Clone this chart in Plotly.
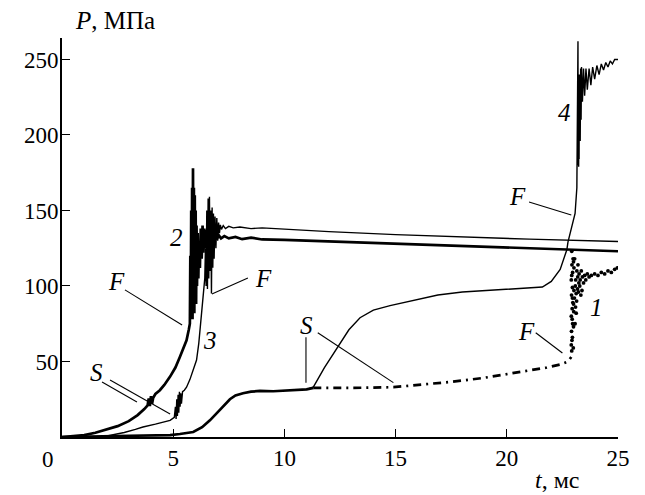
import plotly.graph_objects as go

# ---------------- data ----------------
# curve 1 : solid part then dash-dot part, then noisy jump (dots)
c1_solid_t = [0.0, 1.0, 2.0, 3.0, 4.0, 4.5, 4.86, 5.3, 5.9, 6.3, 6.65, 7.1, 7.55, 7.8, 8.14, 8.5, 8.9, 9.5, 10.0, 10.5, 11.0, 11.3]
c1_solid_p = [0.0, 0.2, 0.4, 0.6, 0.8, 1.1, 1.3, 2.0, 3.3, 6.5, 11.0, 18.0, 25.0, 27.5, 29.0, 30.0, 30.5, 30.3, 30.8, 31.0, 31.5, 32.5]
c1_dash_t = [11.3, 12.5, 13.5, 14.9, 16.0, 17.5, 18.9, 20.0, 21.0, 21.8, 22.4, 22.75, 22.9]
c1_dash_p = [32.5, 32.4, 32.6, 33.0, 34.3, 36.5, 39.0, 41.5, 43.8, 46.0, 48.0, 50.0, 53.0]
c1_noise_t = [22.92, 22.9, 22.95, 22.91, 22.96, 22.9, 22.94, 22.97, 22.91, 22.95, 22.9, 22.96, 22.93, 22.98, 22.92,
              22.99, 22.93, 23.0, 22.94, 23.01, 22.95, 23.02, 22.92, 23.0,
              23.02, 23.08, 23.05, 23.12, 23.0, 23.15, 23.1, 23.2, 23.18, 23.25, 23.04, 23.3, 23.22, 23.35, 23.28,
              23.4, 23.12, 23.45, 23.38, 23.5, 23.07, 23.55, 23.14, 23.24, 23.33, 23.09, 23.19,
              23.62, 23.7, 23.8, 23.95, 24.1, 24.25, 24.4, 24.55, 24.7, 24.85, 24.97]
c1_noise_p = [57, 61, 66, 70, 75, 80, 85, 89, 94, 99, 104, 109, 114, 118, 123,
              59, 64, 73, 78, 83, 92, 97, 107, 116,
              112, 100, 118, 95, 88, 110, 104, 114, 98, 108, 92, 104, 96, 110, 100,
              106, 82, 102, 97, 107, 75, 104, 90, 102, 94, 86, 106,
              108, 106, 107, 108, 107, 109, 108, 110, 109, 111, 112]

# curve 2 (thick)
c2_t = [0.0, 0.5, 1.0, 1.5, 2.0, 2.5, 3.0, 3.4, 3.7, 3.85, 3.9, 3.95, 4.0, 4.05, 4.1, 4.2, 4.4, 4.6, 4.86,
        5.1, 5.3, 5.45, 5.6, 5.7, 5.75, 5.77, 5.79, 5.81, 5.83, 5.85, 5.87, 5.89, 5.91, 5.93, 5.95, 5.97,
        5.99, 6.01, 6.03, 6.05, 6.07, 6.10, 6.13, 6.16, 6.20, 6.24, 6.28, 6.32, 6.36, 6.40, 6.45, 6.50,
        6.55, 6.60, 6.66, 6.72, 6.80, 6.88, 6.96, 7.05, 7.15, 7.3, 7.5, 7.8, 8.1, 8.5, 9.0, 10.0, 12.0,
        15.0, 18.0, 21.0, 25.0]
c2_p = [0.0, 0.5, 1.3, 2.8, 4.8, 7.2, 10.5, 14.5, 18.5, 21.0, 25.5, 20.5, 27.0, 22.0, 26.0, 28.5, 31.0, 34.5, 40.0,
        46.0, 53.0, 58.0, 64.0, 71.0, 75.0, 120.0, 80.0, 150.0, 85.0, 165.0, 78.0, 178.0, 90.0, 165.0, 82.0, 160.0,
        95.0, 150.0, 88.0, 140.0, 100.0, 135.0, 105.0, 130.0, 112.0, 138.0, 118.0, 140.0, 122.0, 138.0, 125.0, 137.0,
        127.0, 136.0, 129.0, 135.0, 130.0, 134.0, 131.0, 133.5, 131.5, 133.0, 131.5, 132.5, 131.0, 132.0, 130.8, 130.5, 129.5,
        128.0, 126.5, 125.0, 123.0]

# curve 3 (thin)
c3_t = [1.8, 2.2, 2.8, 3.3, 3.64, 4.2, 4.86, 5.05, 5.1, 5.13, 5.16, 5.19, 5.22, 5.25, 5.28, 5.31, 5.34, 5.37,
        5.42, 5.5, 5.6, 5.75, 5.9, 6.05, 6.15, 6.25, 6.35, 6.42, 6.45, 6.48, 6.51, 6.54, 6.57, 6.60, 6.63, 6.66,
        6.69, 6.72, 6.75, 6.78, 6.81, 6.84, 6.88, 6.92, 6.96, 7.0, 7.04, 7.08, 7.12, 7.17, 7.25, 7.35, 7.5,
        7.7, 8.0, 8.5, 9.0, 10.0, 12.0, 15.0, 18.0, 21.0, 25.0]
c3_p = [0.0, 1.0, 3.0, 5.0, 6.6, 8.5, 11.0, 13.0, 20.0, 12.0, 25.0, 14.0, 28.0, 16.0, 30.0, 20.0, 29.0, 22.0,
        30.0, 31.0, 33.0, 38.0, 44.0, 51.0, 62.0, 78.0, 95.0, 105.0, 125.0, 100.0, 150.0, 98.0, 158.0, 105.0, 159.0, 110.0,
        150.0, 95.0, 152.0, 112.0, 148.0, 118.0, 146.0, 125.0, 145.0, 130.0, 142.0, 135.0, 140.5, 137.5, 140.0, 138.0, 139.5,
        138.5, 139.0, 138.0, 138.5, 137.5, 136.0, 134.0, 132.5, 131.0, 129.5]

# curve 4 (thin), branches off curve 1 at ~11.2 ms
c4_t = [11.0, 11.3, 11.8, 12.4, 12.9, 13.4, 14.0, 14.75, 15.8, 16.9, 18.0, 19.5, 20.8, 21.6, 22.0, 22.4, 22.7,
        22.75, 22.9, 23.07, 23.15, 23.2, 23.21, 23.22, 23.23, 23.24, 23.25, 23.26, 23.27, 23.28, 23.3,
        23.32, 23.34, 23.36, 23.4, 23.45, 23.5,
        23.56, 23.62, 23.7, 23.78, 23.86, 23.95, 24.05, 24.15, 24.25, 24.35, 24.45, 24.55, 24.65, 24.75, 24.85, 25.0]
c4_p = [31.5, 33.0, 46.0, 60.0, 71.0, 79.0, 84.0, 87.0, 90.5, 94.0, 96.0, 97.5, 98.5, 99.3, 103.0, 111.0, 124.0,
        129.0, 138.0, 148.0, 165.0, 262.0, 180.0, 228.0, 179.0, 226.0, 184.0, 240.0, 190.0, 230.0, 196.0,
        244.0, 210.0, 245.0, 222.0, 244.0, 226.0,
        244.0, 230.0, 244.0, 233.0, 245.0, 237.0, 246.0, 240.0, 247.0, 243.0, 248.0, 245.0, 249.0, 247.0, 250.0, 250.0]

x_ticks = [5, 10, 15, 20, 25]
y_ticks = [50, 100, 150, 200, 250]

# curve labels: (text, t, P)
labels = [("2", 5.17, 132), ("3", 6.65, 64), ("4", 22.6, 215), ("1", 24.05, 86),
          ("F", 2.47, 103), ("F", 9.04, 105), ("S", 1.57, 43), ("S", 11.0, 74),
          ("F", 20.9, 70), ("F", 20.5, 159)]
# leader lines: (t0, P0, t1, P1)
leaders = [(2.83, 97.4, 5.4, 74.2), (6.74, 94.7, 8.36, 105.3),
           (1.8, 36.4, 3.37, 23.2), (2.16, 37.7, 4.86, 15.2),
           (10.97, 66, 10.97, 36), (11.5, 69, 14.9, 36),
           (21.3, 69, 22.5, 55.6), (21.0, 155.6, 22.9, 147)]

# ---------------- figure ----------------
fig = go.Figure()
blk = "black"
fig.add_trace(go.Scatter(x=c1_solid_t, y=c1_solid_p, mode="lines", line=dict(color=blk, width=2.7)))
fig.add_trace(go.Scatter(x=c1_dash_t, y=c1_dash_p, mode="lines",
                         line=dict(color=blk, width=2.7, dash="8px,5px,2px,5px")))
fig.add_trace(go.Scatter(x=c1_noise_t, y=c1_noise_p, mode="markers",
                         marker=dict(color=blk, size=3.8)))
fig.add_trace(go.Scatter(x=c2_t, y=c2_p, mode="lines", line=dict(color=blk, width=2.7)))
fig.add_trace(go.Scatter(x=c3_t, y=c3_p, mode="lines", line=dict(color=blk, width=1.4)))
fig.add_trace(go.Scatter(x=c4_t, y=c4_p, mode="lines", line=dict(color=blk, width=1.4)))

for (t0, p0, t1, p1) in leaders:
    fig.add_shape(type="line", x0=t0, y0=p0, x1=t1, y1=p1, xref="x", yref="y",
                  line=dict(color=blk, width=1.1))

serif = "Liberation Serif"
lab_font = dict(family=serif, size=25, color=blk)
for (txt, t, p) in labels:
    fig.add_annotation(x=t, y=p, text="<i>%s</i>" % txt, showarrow=False, font=lab_font,
                       xanchor="center", yanchor="middle")

tick_font = dict(family=serif, size=23, color=blk)
fig.add_annotation(x=0, y=0, xref="paper", yref="paper", text="0", showarrow=False,
                   font=tick_font, xanchor="center", yanchor="top", xshift=-14, yshift=-8)
fig.add_annotation(x=0.02, y=1.043, xref="paper", yref="paper", text="<i>P</i>, МПа",
                   showarrow=False, font=dict(family=serif, size=25, color=blk),
                   xanchor="left", yanchor="middle")
fig.add_annotation(x=0.847, y=-0.108, xref="paper", yref="paper", text="<i>t</i>, мс",
                   showarrow=False, font=dict(family=serif, size=24, color=blk),
                   xanchor="left", yanchor="middle")

# page body adds an 8px margin: the figure is sized/placed to compensate
fig.update_layout(
    width=637, height=487,
    margin=dict(l=54, r=27, t=30, b=58),
    paper_bgcolor="white", plot_bgcolor="white",
    showlegend=False,
    font=dict(family=serif, size=23, color=blk),
)
fig.update_xaxes(range=[0, 25], tickvals=x_ticks, ticks="inside", ticklen=8, tickwidth=1.3,
                 tickcolor=blk, showline=True, linecolor=blk, linewidth=1.6, showgrid=False,
                 zeroline=False, tickfont=tick_font)
fig.update_yaxes(range=[0, 264.2], tickvals=y_ticks, ticks="inside", ticklen=8, tickwidth=1.3,
                 tickcolor=blk, showline=True, linecolor=blk, linewidth=1.6, showgrid=False,
                 zeroline=False, tickfont=tick_font)
try:
    fig.update_yaxes(ticklabelstandoff=-3)
except Exception:
    pass

fig.write_html("out.html")
